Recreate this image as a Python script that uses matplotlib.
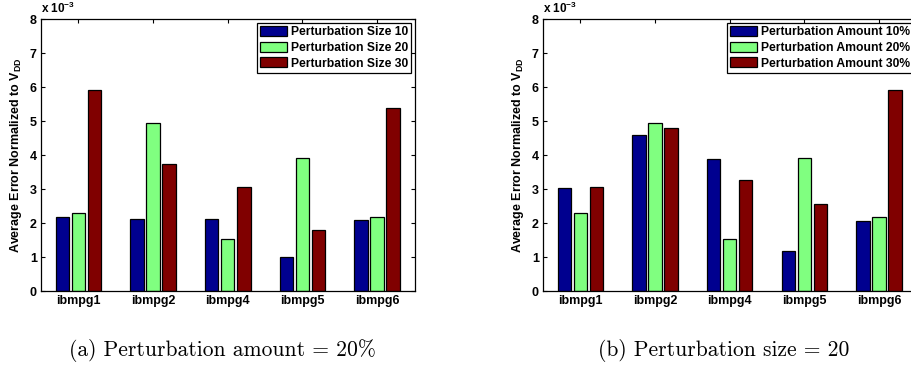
import numpy as np
import matplotlib.pyplot as plt

plt.rcParams["font.family"] = ["Liberation Sans", "DejaVu Sans"]
plt.rcParams["font.weight"] = "bold"
plt.rcParams["mathtext.fontset"] = "custom"
plt.rcParams["mathtext.rm"] = "Liberation Sans:bold"
plt.rcParams["mathtext.it"] = "Liberation Sans:bold"
plt.rcParams["mathtext.bf"] = "Liberation Sans:bold"
plt.rcParams["mathtext.default"] = "rm"

benchmarks = ["ibmpg1", "ibmpg2", "ibmpg4", "ibmpg5", "ibmpg6"]

# (a) perturbation amount = 20%, values in units of 1e-3
size_labels = ["Perturbation Size 10", "Perturbation Size 20", "Perturbation Size 30"]
size_10 = [2.19, 2.13, 2.13, 0.99, 2.09]
size_20 = [2.30, 4.94, 1.52, 3.90, 2.19]
size_30 = [5.90, 3.73, 3.06, 1.80, 5.38]

# (b) perturbation size = 20
amount_labels = ["Perturbation Amount 10%", "Perturbation Amount 20%", "Perturbation Amount 30%"]
amount_10 = [3.03, 4.58, 3.87, 1.17, 2.07]
amount_20 = [2.30, 4.94, 1.52, 3.90, 2.19]
amount_30 = [3.05, 4.80, 3.27, 2.55, 5.91]

colors = ["#00008F", "#80FF80", "#800000"]


def draw_panel(ax, series, labels):
    x = np.arange(1, len(benchmarks) + 1)
    offsets = [-0.215, 0, 0.215]
    for vals, off, c, lab in zip(series, offsets, colors, labels):
        ax.bar(x + off, vals, width=0.18, color=c, edgecolor="black",
               linewidth=0.9, label=lab, zorder=2)
    ax.set_xlim(0.5, 5.5)
    ax.set_ylim(0, 8)
    ax.set_xticks(x)
    ax.set_xticklabels(benchmarks, fontsize=9, fontweight="bold")
    ax.set_yticks(range(0, 9))
    ax.set_yticklabels([str(v) for v in range(0, 9)], fontsize=9, fontweight="bold")
    ax.tick_params(direction="in", length=3, top=True, right=True, pad=3)
    for s in ax.spines.values():
        s.set_linewidth(0.9)
    ax.set_ylabel("Average Error Normalized to V$_{DD}$", fontsize=9, fontweight="bold", labelpad=4)
    ax.text(0.0, 1.012, "x 10$^{-3}$", transform=ax.transAxes, fontsize=8.5,
            ha="left", va="bottom")
    leg = ax.legend(loc="upper right", fontsize=8.7, frameon=True, fancybox=False,
                    edgecolor="black", framealpha=1, borderaxespad=0.3,
                    handlelength=2.2, handleheight=0.9, handletextpad=0.3,
                    labelspacing=0.3, borderpad=0.25)
    leg.get_frame().set_linewidth(0.9)
    for t in leg.get_texts():
        t.set_fontweight("bold")


fig = plt.figure(figsize=(9.11, 3.67), dpi=100)
ax1 = fig.add_axes([0.045, 0.207, 0.41, 0.741])
ax2 = fig.add_axes([0.596, 0.207, 0.41, 0.741])

draw_panel(ax1, [size_10, size_20, size_30], size_labels)
draw_panel(ax2, [amount_10, amount_20, amount_30], amount_labels)

fig.text(0.2437, 0.046, "(a) Perturbation amount = 20%", family="cmr10",
         fontsize=15.5, ha="center", va="center", fontweight="normal")
fig.text(0.7947, 0.046, "(b) Perturbation size = 20", family="cmr10",
         fontsize=15.5, ha="center", va="center", fontweight="normal")

fig.savefig("out.png", dpi=100)
